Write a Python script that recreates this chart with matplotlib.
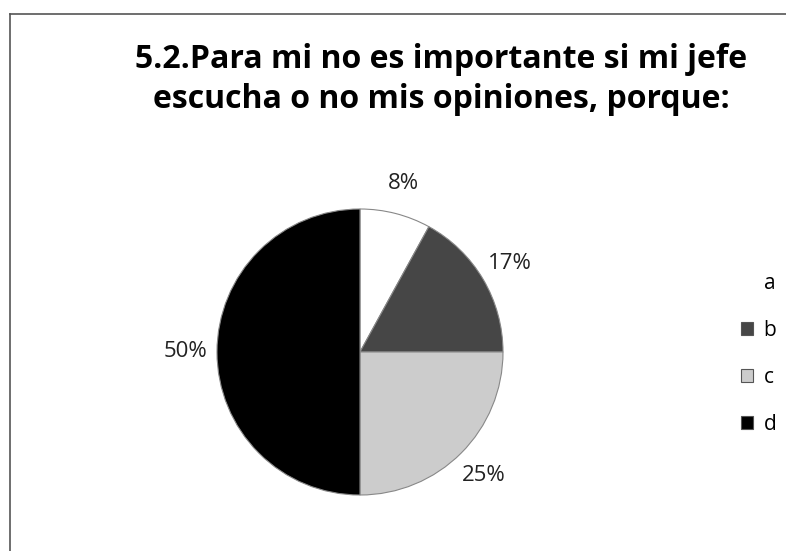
"""pie chart: 5.2 Para mi no es importante si mi jefe escucha..."""
import matplotlib
matplotlib.use("Agg")
import matplotlib.pyplot as plt
from matplotlib.lines import Line2D

categories = ["a", "b", "c", "d"]
values = [8, 17, 25, 50]
colors = ["#ffffff", "#464646", "#cccccc", "#000000"]
title = "5.2.Para mi no es importante si mi jefe\nescucha o no mis opiniones, porque:"


def main():
    plt.rcParams['font.family'] = ['Open Sans', 'DejaVu Sans']
    fig = plt.figure(figsize=(7.86, 5.51), dpi=100)
    W, H = 786, 551

    # outer frame (top + left edges as in the scan)
    fig.add_artist(Line2D([10 / W, 1.0], [1 - 14 / H, 1 - 14 / H],
                          transform=fig.transFigure, color="#555555", lw=1.2))
    fig.add_artist(Line2D([10 / W, 10 / W], [0.0, 1 - 14 / H],
                          transform=fig.transFigure, color="#555555", lw=1.2))

    fig.text(441 / W, 1 - 79 / H, title, ha="center", va="center",
             fontsize=23, fontweight="bold", linespacing=1.28)

    cx, cy, r = 360, 352, 143
    ax = fig.add_axes([(cx - r) / W, (H - cy - r) / H, 2 * r / W, 2 * r / H])
    wedges, texts, autotexts = ax.pie(
        values, colors=colors, startangle=90, counterclock=False,
        autopct=lambda p: "%d%%" % round(p), pctdistance=1.22,
        wedgeprops=dict(edgecolor="#888888", linewidth=0.8),
        textprops=dict(fontsize=16, color="#222222"))
    for t in autotexts:
        t.set_clip_on(False)
    ax.set_xlim(-1, 1)
    ax.set_ylim(-1, 1)
    ax.set_aspect("auto")

    leg = fig.legend(wedges, categories, loc="center left",
                     bbox_to_anchor=(722 / W, 1 - 354 / H), frameon=False,
                     fontsize=15, handlelength=0.6, handleheight=0.6,
                     handletextpad=0.5, labelspacing=1.25)
    for h in leg.legend_handles:
        h.set_edgecolor("#555555")
    leg.legend_handles[0].set_edgecolor("white")

    fig.savefig("out.png", dpi=100)


if __name__ == '__main__':
    main()
